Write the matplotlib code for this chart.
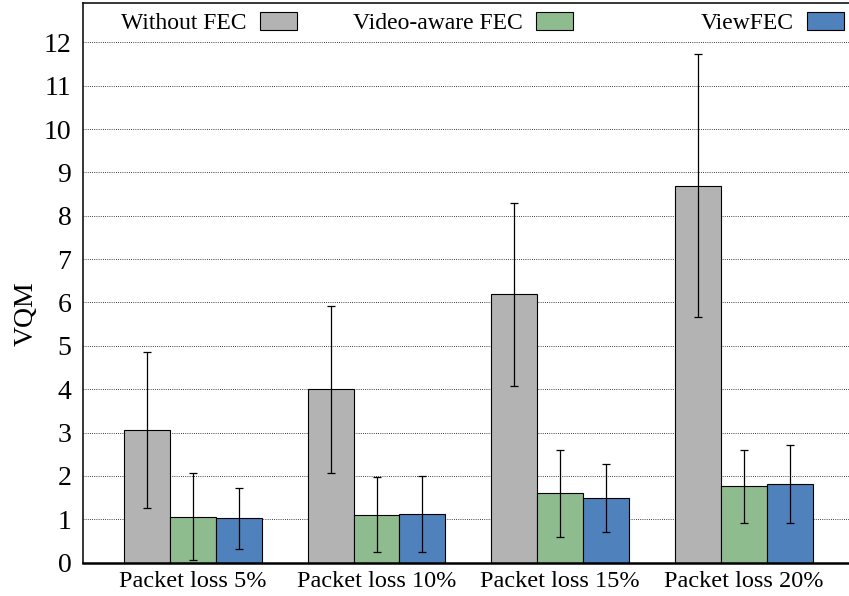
import matplotlib
matplotlib.use("Agg")
import matplotlib.pyplot as plt
from matplotlib.legend import Legend
import numpy as np

plt.rcParams["font.family"] = ["Liberation Serif", "DejaVu Serif"]

# Mean VQM and error (std) per packet-loss level
categories = ["Packet loss 5%", "Packet loss 10%", "Packet loss 15%", "Packet loss 20%"]
series_names = ["Without FEC", "Video-aware FEC", "ViewFEC"]
without_fec = [3.05, 4.00, 6.19, 8.69]
without_fec_err = [1.80, 1.93, 2.11, 3.03]
video_aware = [1.06, 1.11, 1.60, 1.76]
video_aware_err = [1.00, 0.87, 1.00, 0.85]
viewfec = [1.02, 1.12, 1.49, 1.81]
viewfec_err = [0.70, 0.87, 0.79, 0.90]
y_ticks = list(range(0, 13))

colors = ["#b3b3b3", "#8fbc8f", "#4f81bd"]
values = [without_fec, video_aware, viewfec]
errors = [without_fec_err, video_aware_err, viewfec_err]

fig = plt.figure(figsize=(8.49, 5.96), dpi=100)
ax = fig.add_axes([0.0972, 0.0559, 0.909, 0.9386])

x = np.arange(len(categories))
width = 0.25
bars = []
for i, (vals, errs, col) in enumerate(zip(values, errors, colors)):
    b = ax.bar(x + (i - 1) * width, vals, width, color=col, edgecolor="black",
               linewidth=0.8, zorder=2)
    ax.errorbar(x + (i - 1) * width, vals, yerr=errs, fmt="none", ecolor="black",
                elinewidth=0.9, capsize=2.6, capthick=0.9, zorder=3)
    bars.append(b)

ax.set_xlim(-0.6, 3.6)
ax.set_ylim(0, 12.9)
ax.set_yticks(y_ticks)
ax.set_xticks(x)
ax.set_xticklabels(categories, fontsize=17.5)
ax.tick_params(axis="y", labelsize=20, length=0, pad=8)
ax.tick_params(axis="x", length=0, pad=6)
ax.yaxis.grid(True, linestyle=(0, (1, 1.6)), color="black", linewidth=0.6, zorder=0)
ax.set_axisbelow(True)

ax.set_ylabel("VQM", fontsize=20)
ax.yaxis.set_label_coords(-0.057, 0.445)

for side in ["left", "top"]:
    ax.spines[side].set_linewidth(1.1)
ax.spines["right"].set_visible(False)
ax.spines["bottom"].set_linewidth(1.8)

# Key entries: text right-aligned before its colour swatch
anchors = [0.278, 0.6355, 0.9866]
for b, name, ax_x in zip(bars, series_names, anchors):
    leg = Legend(ax, [b], [name], loc="center right", bbox_to_anchor=(ax_x, 0.9648),
                 frameon=False, markerfirst=False, fontsize=17,
                 handlelength=1.58, handleheight=0.8, handletextpad=0.55,
                 borderpad=0, borderaxespad=0)
    ax.add_artist(leg)

fig.savefig("out.png", dpi=100)
